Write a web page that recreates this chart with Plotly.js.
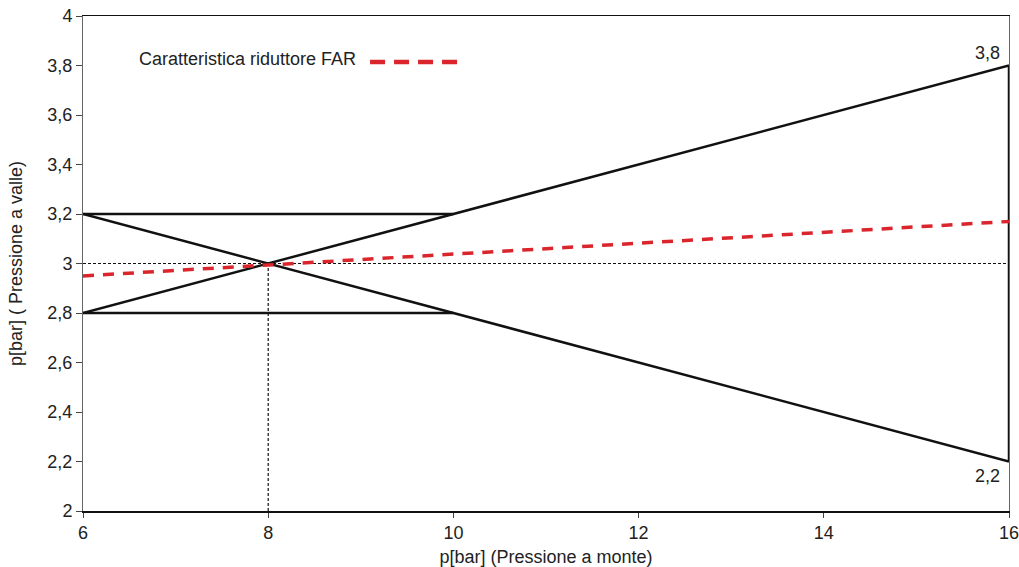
<!DOCTYPE html>
<html><head><meta charset="utf-8">
<script src="https://cdn.plot.ly/plotly-3.0.1.min.js"></script>
<style>body{margin:0;background:#fff}#chart{width:1019px;height:567px}</style>
</head><body><div id="chart"></div>
<script>
// Data
var farX = [6, 16];
var farY = [2.95, 3.17];
var upperBandX = [6, 10];
var upperBandY = [3.2, 3.2];
var lowerBandX = [6, 10];
var lowerBandY = [2.8, 2.8];
var fallingX = [6, 8, 10, 16];
var fallingY = [3.2, 3.0, 2.8, 2.2];
var risingX = [6, 8, 10, 16];
var risingY = [2.8, 3.0, 3.2, 3.8];
var endX = [16, 16];
var endY = [2.2, 3.8];
var refHX = [6, 16];
var refHY = [3, 3];
var refVX = [8, 8];
var refVY = [2, 3];
var xTicks = [6, 8, 10, 12, 14, 16];
var yTicks = [2, 2.2, 2.4, 2.6, 2.8, 3, 3.2, 3.4, 3.6, 3.8, 4];
var yTickText = ["2", "2,2", "2,4", "2,6", "2,8", "3", "3,2", "3,4", "3,6", "3,8", "4"];
var legendText = "Caratteristica riduttore FAR";
var endLabels = ["3,8", "2,2"];

var blk = {color: "#111", width: 2.5};
function tr(x, y, line) { return {x: x, y: y, mode: "lines", line: line, hoverinfo: "skip", showlegend: false}; }
var data = [
  tr(refHX, refHY, {color: "#111", width: 1.2, dash: "3px,2px"}),
  tr(refVX, refVY, {color: "#111", width: 1.2, dash: "3px,2px"}),
  tr(upperBandX, upperBandY, blk),
  tr(lowerBandX, lowerBandY, blk),
  tr(fallingX, fallingY, blk),
  tr(risingX, risingY, blk),
  tr(endX, endY, blk),
  tr(farX, farY, {color: "#d9252b", width: 3.5, dash: "11px,9px"})
];

var font = {family: "Liberation Sans, Arial, sans-serif", size: 18, color: "#222"};
var layout = {
  width: 1019, height: 567,
  margin: {l: 83, r: 10, t: 16, b: 56},
  paper_bgcolor: "#fff", plot_bgcolor: "#fff",
  font: font,
  showlegend: false,
  xaxis: {
    range: [6, 16], tickvals: xTicks, ticktext: xTicks.map(String),
    showgrid: false, zeroline: false, showline: true, linecolor: "#111", linewidth: 1.5,
    mirror: true, ticks: "outside", ticklen: 5, tickcolor: "#444",
    automargin: false, ticklabeloverflow: "allow",
    title: {text: "p[bar] (Pressione a monte)", font: font, standoff: 16}
  },
  yaxis: {
    range: [2, 4], tickvals: yTicks, ticktext: yTickText,
    showgrid: false, zeroline: false, showline: true, linecolor: "#666", linewidth: 1,
    mirror: true, ticks: "outside", ticklen: 6, tickcolor: "#444",
    automargin: false, ticklabeloverflow: "allow",
    title: {text: "p[bar] ( Pressione a valle)", font: font, standoff: 20}
  },
  annotations: [
    {x: 16, y: 3.8, xref: "x", yref: "y", text: endLabels[0], showarrow: false, xanchor: "right", yanchor: "bottom", xshift: -7, yshift: 1, font: font},
    {x: 16, y: 2.2, xref: "x", yref: "y", text: endLabels[1], showarrow: false, xanchor: "right", yanchor: "top", xshift: -7, yshift: -2, font: font},
    {x: 0.058, y: 0.913, xref: "paper", yref: "paper", text: legendText, showarrow: false, xanchor: "left", yanchor: "middle", font: font}
  ],
  shapes: [
    {type: "line", xref: "paper", yref: "paper", x0: 0.31, x1: 0.404, y0: 0.907, y1: 0.907,
     line: {color: "#d9252b", width: 4.5, dash: "15px,9px"}}
  ]
};
Plotly.newPlot("chart", data, layout, {displayModeBar: false, staticPlot: true});
</script>
</body></html>
